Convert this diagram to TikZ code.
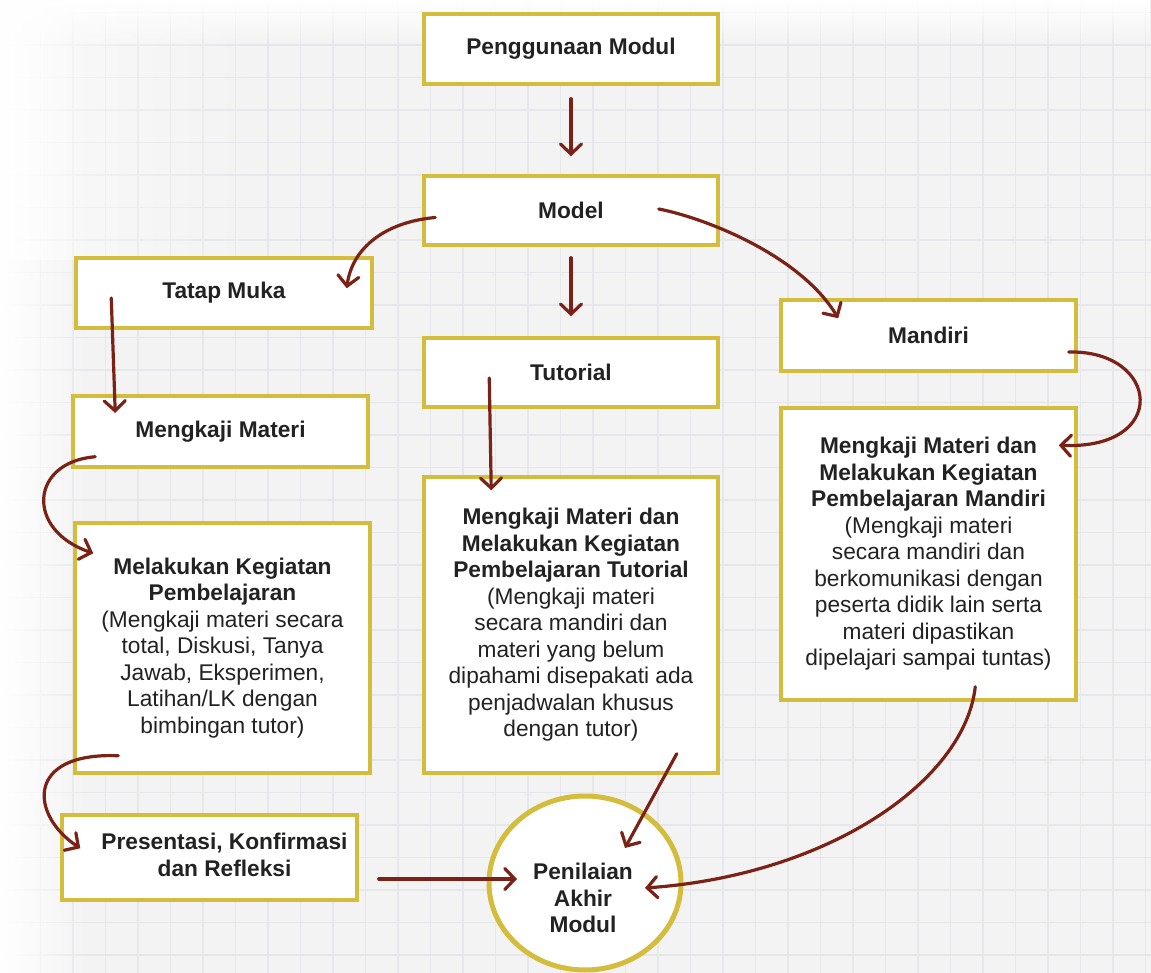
\documentclass[tikz,border=0pt]{standalone}
\usepackage{fontspec}
\setmainfont{Liberation Sans}
\usetikzlibrary{arrows.meta,shapes.geometric,fadings,calc}
\definecolor{ybord}{HTML}{D4BC3C}
\definecolor{arrc}{HTML}{7B2216}
\definecolor{txt}{HTML}{222222}
\definecolor{bgc}{HTML}{F3F3F3}
\definecolor{gridc}{HTML}{E5E7EA}
\begin{document}
\begin{tikzpicture}[x=1pt,y=-1pt,
  box/.style={draw=ybord, line width=3.5pt, fill=white, rectangle, inner sep=0pt,
    text=txt, align=center, font=\fontsize{22.7}{26.5}\selectfont},
  conn/.style={draw=arrc, line width=3.2pt, line cap=round,
    -{Straight Barb[length=10pt,width=21pt,line cap=round]}}]
\useasboundingbox (0,0) rectangle (1151,973);
% background
\fill[bgc] (0,0) rectangle (1151,973);
\foreach \i in {0,...,35} \draw[gridc, line width=1.3pt] (8+32.5*\i,0) -- (8+32.5*\i,973);
\foreach \j in {0,...,29} \draw[gridc, line width=1.3pt] (0,12.5+32.5*\j) -- (1151,12.5+32.5*\j);
\fill[white, path fading=east] (0,0) rectangle (90,973);
\fill[white, path fading=south] (0,0) rectangle (1151,45);
\fill[white, path fading=east, opacity=0.6] (0,0) rectangle (260,260);
% boxes
\node[box, minimum width=294pt, minimum height=70pt] (pm) at (571,49) {\textbf{Penggunaan Modul}};
\node[box, minimum width=294pt, minimum height=69pt] (model) at (571,210.5) {\textbf{Model}};
\node[box, minimum width=296pt, minimum height=70pt] (tatap) at (224,293) {\textbf{Tatap Muka}};
\node[box, minimum width=294pt, minimum height=69pt] (tutorial) at (571,372.5) {\textbf{Tutorial}};
\node[box, minimum width=295pt, minimum height=71pt] (mandiri) at (928.5,335.5) {\textbf{Mandiri}};
\node[box, minimum width=295pt, minimum height=71pt] (mm) at (220.5,431.5) {\textbf{Mengkaji Materi}};
\node[box, minimum width=295pt, minimum height=250pt] (mk) at (222.5,648) {\textbf{Melakukan Kegiatan}\\\textbf{Pembelajaran}\\(Mengkaji materi secara\\total, Diskusi, Tanya\\Jawab, Eksperimen,\\Latihan/LK dengan\\bimbingan tutor)};
\node[box, minimum width=294pt, minimum height=296pt] (tt) at (571,625) {\textbf{Mengkaji Materi dan}\\\textbf{Melakukan Kegiatan}\\\textbf{Pembelajaran Tutorial}\\(Mengkaji materi\\secara mandiri dan\\materi yang belum\\dipahami disepakati ada\\penjadwalan khusus\\dengan tutor)};
\node[box, minimum width=295pt, minimum height=292pt] (md) at (928.5,554) {\textbf{Mengkaji Materi dan}\\\textbf{Melakukan Kegiatan}\\\textbf{Pembelajaran Mandiri}\\(Mengkaji materi\\secara mandiri dan\\berkomunikasi dengan\\peserta didik lain serta\\materi dipastikan\\dipelajari sampai tuntas)};
\node[box, minimum width=295pt, minimum height=85pt] (pk) at (209.5,857.5) {\hspace*{30pt}\begin{tabular}{@{}c@{}}\textbf{Presentasi, Konfirmasi}\\\textbf{dan Refleksi}\end{tabular}};
\node[ellipse, draw=ybord, line width=5pt, fill=white, minimum width=192pt, minimum height=174pt,
  label={[text=txt, align=center, font=\fontsize{22.7}{26.5}\selectfont, yshift=-15pt, xshift=-2pt]center:{\textbf{Penilaian}\\\textbf{Akhir}\\\textbf{Modul}}}] (pa) at (585,883) {};
% connectors
\draw[conn, shorten <=13pt, shorten >=18pt] (pm) -- (model);
\draw[conn, shorten <=11pt, shorten >=20pt] (model) -- (tutorial);
\draw[conn] ([shift={(13,7)}]model.west) .. controls (385,222) and (352,248) .. ([shift={(-27,32)}]tatap.north east);
\draw[conn] ([shift={(-61,-1.5)}]model.east) .. controls (705,218) and (800,255) .. ([shift={(59,20)}]mandiri.north west);
\draw[conn] ([shift={(37,5)}]tatap.west) -- ([shift={(44,-18.5)}]mm.west);
\draw[conn] ([shift={(67,5.5)}]tutorial.west) -- ([shift={(69,15)}]tt.north west);
\draw[conn] ([shift={(24,-12)}]mm.south west) .. controls (30,462) and (25,530) .. ([shift={(20,32)}]mk.north west);
\draw[conn] ([shift={(45,-19)}]mk.south west) .. controls (25,752) and (30,815) .. ([shift={(20,35)}]pk.north west);
\draw[conn] ([shift={(-9,16.5)}]mandiri.east) .. controls (1160,350) and (1170,450) .. ([shift={(-19,39)}]md.north east);
\draw[conn] ([shift={(20,21.5)}]pk.east) -- ([shift={(-68,-4)}]pa.center);
\draw[conn] ([shift={(-43,-21)}]tt.south east) -- ([shift={(40,-35)}]pa.center);
\draw[conn] ([shift={(196,-15)}]md.south west) .. controls (965,780) and (830,875) .. ([shift={(60,5)}]pa.center);
\end{tikzpicture}
\end{document}
